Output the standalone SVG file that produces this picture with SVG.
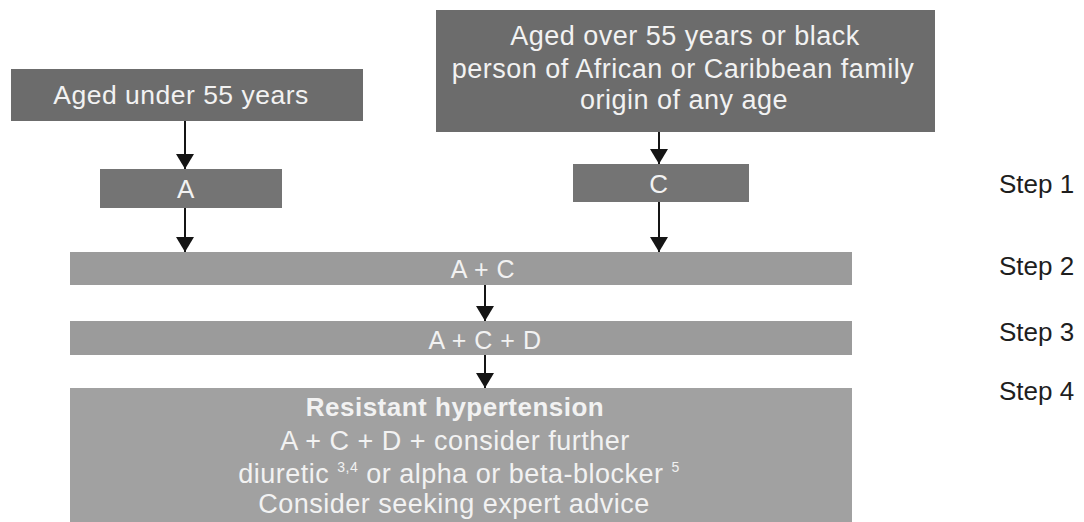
<svg xmlns="http://www.w3.org/2000/svg" width="1084" height="522" viewBox="0 0 1084 522">
  <style>
    .t { font-family: "Liberation Sans", Arial, sans-serif; fill: #f2f2f2; text-anchor: middle; letter-spacing: 0.5px; }
    .lbl { font-family: "Liberation Sans", Arial, sans-serif; fill: #1e1e1e; font-size: 26px; }
    .dark { fill: #6c6c6c; }
    .mid { fill: #747474; }
    .light { fill: #9b9b9b; }
    .lighter { fill: #a1a1a1; }
    .conn { stroke: #151515; stroke-width: 2; fill: none; marker-end: url(#arr); }
    .sup { font-size: 14px; }
  </style>
  <defs>
    <marker id="arr" viewBox="0 0 15 18" refX="15" refY="9" markerWidth="15" markerHeight="18" markerUnits="userSpaceOnUse" orient="auto">
      <path d="M0,0 L15,9 L0,18 z" fill="#151515"/>
    </marker>
  </defs>
  <rect width="1084" height="522" fill="#ffffff"/>

  <g id="node-under55">
    <rect class="dark" x="11" y="69" width="352" height="52"/>
    <text class="t" x="181" y="104" font-size="26.5">Aged under 55 years</text>
  </g>

  <g id="node-over55">
    <rect class="dark" x="436" y="10" width="499" height="122"/>
    <text class="t" x="685" y="45" font-size="27">Aged over 55 years or black</text>
    <text class="t" x="683" y="78" font-size="27">person of African or Caribbean family</text>
    <text class="t" x="684" y="109" font-size="27">origin of any age</text>
  </g>

  <g id="node-A">
    <rect class="mid" x="100" y="169" width="182" height="39"/>
    <text class="t" x="186" y="198" font-size="26">A</text>
  </g>

  <g id="node-C">
    <rect class="mid" x="573" y="164" width="176" height="38"/>
    <text class="t" x="659" y="193" font-size="26">C</text>
  </g>

  <g id="node-AC">
    <rect class="light" x="70" y="252" width="782" height="33"/>
    <text class="t" x="483" y="278" font-size="25">A + C</text>
  </g>

  <g id="node-ACD">
    <rect class="light" x="70" y="321" width="782" height="34"/>
    <text class="t" x="485" y="349" font-size="25">A + C + D</text>
  </g>

  <g id="node-resistant">
    <rect class="lighter" x="70" y="388" width="782" height="134"/>
    <text class="t" x="455" y="416" font-size="26" font-weight="bold">Resistant hypertension</text>
    <text class="t" x="455" y="450" font-size="27">A + C + D + consider further</text>
    <text class="t" x="459" y="483" font-size="27">diuretic <tspan class="sup" dy="-11">3,4</tspan><tspan dy="11"> or alpha or beta-blocker </tspan><tspan class="sup" dy="-11">5</tspan></text>
    <text class="t" x="454" y="513" font-size="27">Consider seeking expert advice</text>
  </g>

  <g id="steps">
    <text class="lbl" x="999" y="193">Step 1</text>
    <text class="lbl" x="999" y="275">Step 2</text>
    <text class="lbl" x="999" y="341">Step 3</text>
    <text class="lbl" x="999" y="400">Step 4</text>
  </g>

  <g id="connectors">
    <line class="conn" x1="185" y1="121" x2="185" y2="169"/>
    <line class="conn" x1="185" y1="208" x2="185" y2="252"/>
    <line class="conn" x1="659" y1="132" x2="659" y2="164"/>
    <line class="conn" x1="659" y1="202" x2="659" y2="252"/>
    <line class="conn" x1="485" y1="285" x2="485" y2="321"/>
    <line class="conn" x1="485" y1="355" x2="485" y2="388"/>
  </g>
</svg>
